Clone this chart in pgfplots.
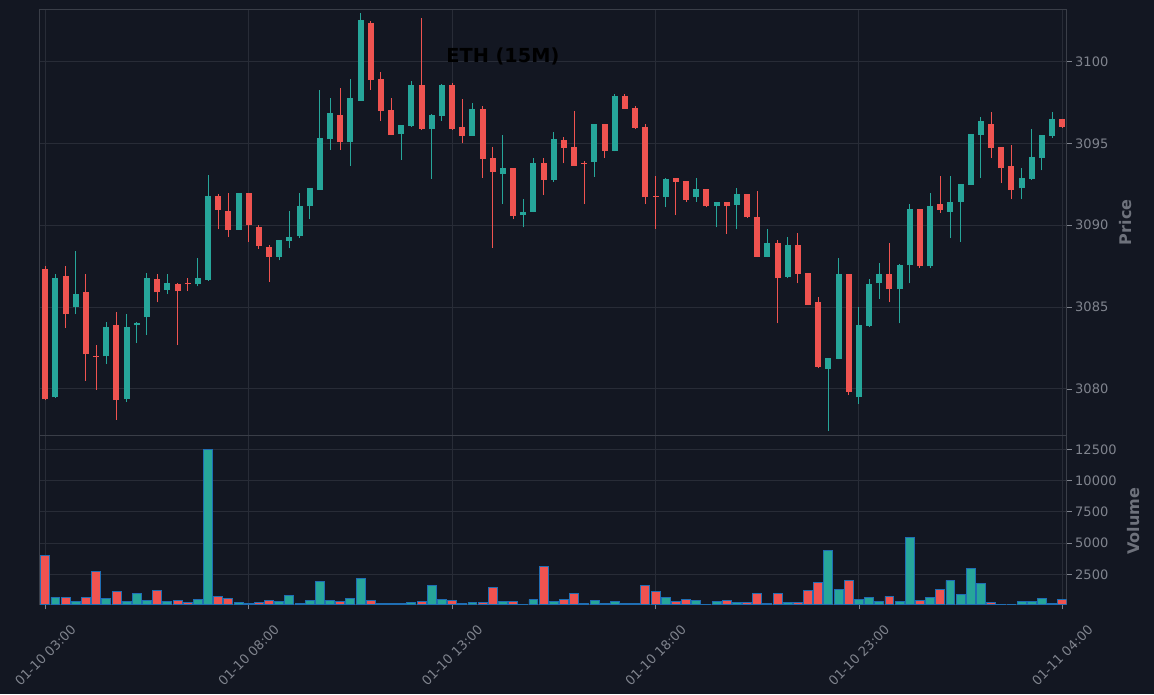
\documentclass[border=0pt]{standalone}
\usepackage{pgfplots}
\pgfplotsset{compat=1.18}
\usepackage{pgfplotstable}
\usepackage{fontspec}
\setmainfont{DejaVu Sans}
\definecolor{bg}{RGB}{19,23,34}
\definecolor{upc}{RGB}{38,166,154}
\definecolor{dnc}{RGB}{239,83,80}
\definecolor{gridc}{RGB}{40,44,55}
\definecolor{spinec}{RGB}{58,62,72}
\definecolor{tickc}{RGB}{128,132,142}
\definecolor{labc}{RGB}{110,114,124}
\definecolor{edgec}{RGB}{31,110,180}

% up (teal) candles: index, open, high, low, close, volume
\pgfplotstableread{
i o h l c v
1 3079.49 3087.01 3079.45 3086.79 645
3 3084.98 3088.43 3084.57 3085.79 296
6 3081.99 3084.08 3081.52 3083.80 564
8 3079.37 3084.57 3079.20 3083.80 296
9 3083.88 3084.08 3082.80 3084.04 968
10 3084.37 3087.07 3083.29 3086.79 376
12 3086.07 3087.01 3085.79 3086.48 296
15 3086.38 3087.99 3086.26 3086.77 484
16 3086.68 3093.05 3086.60 3091.77 12480
19 3089.73 3091.95 3089.73 3091.95 242
23 3088.08 3089.10 3087.85 3089.10 296
24 3089.06 3090.88 3088.59 3089.28 806
25 3089.35 3091.96 3089.24 3091.19 180
26 3091.15 3092.29 3090.35 3092.29 403
27 3092.17 3098.28 3092.17 3095.30 1935
28 3095.24 3097.79 3094.60 3096.83 403
30 3095.07 3098.90 3093.62 3097.75 564
31 3097.59 3102.94 3097.59 3102.54 2177
35 3095.56 3096.09 3093.99 3096.09 161
36 3096.05 3098.83 3096.00 3098.55 242
38 3095.87 3096.81 3092.82 3096.71 1613
39 3096.67 3098.60 3096.38 3098.55 484
42 3095.47 3097.44 3095.45 3097.09 242
45 3093.15 3095.51 3091.28 3093.50 322
47 3090.65 3091.59 3089.86 3090.81 60
48 3090.83 3094.11 3090.80 3093.80 484
50 3092.78 3095.69 3092.66 3095.26 296
54 3093.88 3096.20 3092.97 3096.18 403
56 3094.55 3097.99 3094.50 3097.89 296
61 3091.75 3092.89 3091.10 3092.83 645
64 3091.69 3092.89 3091.44 3092.22 403
66 3091.14 3091.42 3089.86 3091.42 296
68 3091.26 3092.28 3089.74 3091.91 242
71 3088.07 3089.78 3088.05 3088.92 161
73 3086.85 3089.27 3086.75 3088.80 242
77 3081.24 3081.91 3077.44 3081.91 4435
78 3081.85 3087.99 3081.80 3087.03 1290
80 3079.49 3085.00 3079.09 3083.92 484
81 3083.86 3086.71 3083.80 3086.42 645
82 3086.44 3087.68 3085.50 3087.03 296
84 3086.08 3087.60 3084.00 3087.58 296
85 3087.54 3091.28 3086.44 3091.00 5484
87 3087.48 3091.95 3087.38 3091.18 645
89 3090.83 3092.99 3089.21 3091.42 2016
90 3091.44 3092.52 3088.96 3092.52 887
91 3092.48 3095.57 3092.48 3095.57 2984
92 3095.53 3096.61 3092.87 3096.36 1774
96 3092.24 3093.48 3091.57 3092.89 296
97 3092.83 3095.85 3092.78 3094.17 296
98 3094.13 3095.51 3093.35 3095.51 564
99 3095.47 3096.91 3095.35 3096.48 161
}\upt

% down (red) candles
\pgfplotstableread{
i o h l c v
0 3087.34 3087.50 3079.30 3079.37 4030
2 3086.91 3087.50 3083.72 3084.55 645
4 3085.93 3087.01 3080.51 3082.11 645
5 3082.04 3082.68 3079.94 3081.98 2742
7 3083.92 3084.69 3078.11 3079.31 1129
11 3086.73 3087.01 3085.28 3085.89 1210
13 3086.40 3086.46 3082.68 3085.95 376
14 3086.49 3086.77 3085.97 3086.43 215
17 3091.77 3091.89 3089.75 3090.95 726
18 3090.85 3091.95 3089.27 3089.73 538
20 3091.97 3091.97 3088.96 3089.98 130
21 3089.90 3090.02 3088.57 3088.75 215
22 3088.67 3088.79 3086.56 3088.08 403
29 3096.71 3098.40 3094.60 3095.07 296
32 3102.35 3102.45 3098.28 3098.88 403
33 3098.92 3099.35 3096.38 3096.97 161
34 3097.01 3097.79 3095.50 3095.50 161
37 3098.55 3102.64 3095.81 3095.87 322
40 3098.55 3098.71 3095.82 3095.87 403
41 3096.00 3097.68 3095.00 3095.47 161
43 3097.09 3097.26 3092.87 3094.07 215
44 3094.11 3094.78 3088.60 3093.27 1452
46 3093.50 3093.50 3090.35 3090.59 296
49 3093.80 3094.11 3091.87 3092.78 3145
51 3095.20 3095.39 3093.78 3094.74 484
52 3094.78 3096.97 3093.60 3093.64 968
53 3093.82 3093.92 3091.28 3093.76 161
55 3096.18 3096.20 3094.13 3094.55 161
57 3097.89 3097.99 3097.10 3097.11 161
58 3097.15 3097.26 3095.90 3095.96 161
59 3096.00 3096.16 3091.28 3091.69 1613
60 3091.78 3092.99 3089.76 3091.72 1129
62 3092.89 3092.90 3090.61 3092.66 296
63 3092.70 3092.70 3091.44 3091.54 484
65 3092.22 3092.22 3091.08 3091.14 50
67 3091.42 3091.42 3089.49 3091.14 403
69 3091.91 3091.91 3090.45 3090.47 215
70 3090.51 3092.09 3088.05 3088.07 968
72 3088.92 3089.09 3084.00 3086.75 968
74 3088.80 3089.51 3086.44 3087.03 242
75 3087.09 3087.10 3085.12 3085.14 1210
76 3085.33 3085.61 3081.26 3081.36 1855
79 3087.03 3087.03 3079.63 3079.80 2016
83 3087.03 3088.90 3085.30 3086.08 726
86 3091.00 3091.00 3087.38 3087.48 376
88 3091.30 3092.99 3090.77 3090.93 1290
93 3096.18 3096.91 3094.09 3094.74 215
94 3094.78 3094.80 3092.56 3093.46 30
95 3093.62 3094.88 3091.57 3092.17 30
100 3096.48 3096.50 3095.96 3096.02 484
}\dnt

\pgfplotsset{
  /pgf/number format/assume math mode=true,
  base/.style={
    scale only axis, width=1027pt,
    xmin=-0.55, xmax=100.43,
    axis background/.style={fill=bg},
    axis line style={spinec, line width=1.3pt},
    grid=major, major grid style={gridc, line width=0.9pt},
    xtick={0,20,40,60,80,100},
    xtick pos=bottom,
    ytick pos=right, yticklabel pos=right,
    tick align=outside, major tick length=5pt,
    tick style={tickc, line width=0.8pt},
    tick label style={font=\fontsize{13}{15}\selectfont, text=tickc},
    scaled y ticks=false,
    yticklabel style={/pgf/number format/1000 sep={}},
  },
  wick/.style={draw=none, mark=none, forget plot, error bars/.cd, y dir=plus, y explicit, error mark=none,
    error bar style={draw=#1, line width=1pt}},
  body/.style={draw=none, mark=none, forget plot, error bars/.cd, y dir=plus, y explicit, error mark=none,
    error bar style={draw=#1, line width=6pt}},
}

\begin{document}
\begin{tikzpicture}[x=1pt,y=1pt]
\useasboundingbox (0,0) rectangle (1154,694);
\fill[bg] (0,0) rectangle (1154,694);

% ---------- price panel ----------
\begin{axis}[base,
  at={(39.7pt,258.7pt)}, anchor=south west,
  height=426pt,
  ymin=3077.17, ymax=3103.18,
  ytick={3080,3085,3090,3095,3100},
  xticklabels={}, xmajorticks=false,
  every axis y label/.style={at={(axis description cs:1.0575,0.5)}, rotate=90, anchor=center,
     font=\bfseries\fontsize{16}{18}\selectfont, text=labc},
  ylabel={Price},
]
% wicks
\addplot[wick=upc] table[x=i, y=l, y error plus expr=\thisrow{h}-\thisrow{l}] {\upt};
\addplot[wick=dnc] table[x=i, y=l, y error plus expr=\thisrow{h}-\thisrow{l}] {\dnt};
% bodies
\addplot[body=upc] table[x=i, y=o, y error plus expr=\thisrow{c}-\thisrow{o}] {\upt};
\addplot[body=dnc] table[x=i, y=c, y error plus expr=\thisrow{o}-\thisrow{c}] {\dnt};
\node[font=\bfseries\fontsize{19.3}{21}\selectfont, text=black] at (axis description cs:0.451,0.890) {ETH (15M)};
\end{axis}

% ---------- volume panel ----------
\begin{axis}[base,
  at={(39.7pt,89.7pt)}, anchor=south west,
  height=169pt,
  ymin=100, ymax=13620,
  ytick={2500,5000,7500,10000,12500},
  xticklabels={01-10 03:00,01-10 08:00,01-10 13:00,01-10 18:00,01-10 23:00,01-11 04:00},
  xticklabel style={yshift=-46pt, rotate=45, anchor=center},
  every axis y label/.style={at={(axis description cs:1.0646,0.49)}, rotate=90, anchor=center,
     font=\bfseries\fontsize{16}{18}\selectfont, text=labc},
  ylabel={Volume},
]
\addplot[ybar, bar width=0.88, bar shift=0pt, fill=upc, draw=edgec, line width=0.9pt, forget plot]
  table[x=i, y=v] {\upt};
\addplot[ybar, bar width=0.88, bar shift=0pt, fill=dnc, draw=edgec, line width=0.9pt, forget plot]
  table[x=i, y=v] {\dnt};
\end{axis}
\end{tikzpicture}
\end{document}
